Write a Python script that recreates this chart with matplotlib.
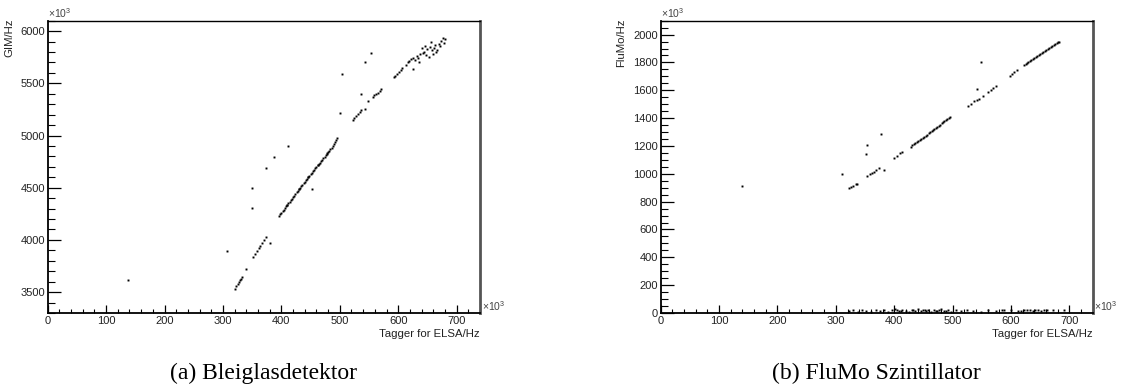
import matplotlib
matplotlib.use("Agg")
import matplotlib.pyplot as plt
from matplotlib.ticker import MultipleLocator

plt.rcParams["font.family"] = ["Liberation Sans", "DejaVu Sans"]
plt.rcParams["mathtext.fontset"] = "custom"
plt.rcParams["mathtext.rm"] = "Liberation Sans"

# ---- (a) Bleiglasdetektor: Tagger rate vs GIM rate (both x10^3 Hz) ----
gim_x = [138, 307, 340, 350, 350, 374, 388, 380, 411, 453, 500, 504, 543, 554, 536, 548, 543,
         321, 323, 325, 327, 329, 331, 332,
         352, 355, 358, 361, 364, 367, 370, 373,
         396, 400, 404, 408, 412, 416, 420, 424, 428, 432, 436, 440, 444, 448, 452, 456,
         460, 464, 468, 472, 476, 480, 484, 488, 492, 496, 410, 430, 446, 462, 478,
         398, 402, 406, 410, 414, 418, 422, 426, 430, 434, 438, 442, 446, 450, 454, 458,
         462, 466, 470, 474, 478, 482, 486, 490, 494,
         522, 525, 528, 531, 534, 537,
         556, 559, 562, 565, 568, 571,
         592, 595, 598, 601, 604, 607,
         613, 616, 619, 622, 625, 626, 629, 632, 634, 636, 638, 641, 643, 644, 647, 650,
         653, 655, 656, 658, 661, 663, 665, 667, 670, 672, 674, 676, 678, 680, 646, 660]
gim_y = [3616, 3891, 3719, 4306, 4495, 4686, 4792, 3968, 4900, 4485, 5213, 5590, 5702, 5788, 5398, 5334, 5254,
         3530, 3555, 3575, 3595, 3612, 3630, 3642,
         3839, 3865, 3890, 3918, 3945, 3970, 3998, 4025,
         4232, 4262, 4290, 4322, 4350, 4380, 4410, 4440, 4470, 4500, 4528, 4556, 4585, 4612, 4642, 4670,
         4700, 4726, 4756, 4783, 4812, 4842, 4870, 4900, 4935, 4975, 4338, 4492, 4603, 4720, 4830,
         4247, 4276, 4306, 4336, 4365, 4395, 4425, 4455, 4485, 4514, 4542, 4570, 4598, 4627, 4656, 4685,
         4713, 4741, 4770, 4798, 4827, 4856, 4885, 4917, 4955,
         5149, 5170, 5188, 5205, 5226, 5245,
         5372, 5385, 5400, 5412, 5428, 5443,
         5558, 5575, 5592, 5608, 5625, 5644,
         5676, 5700, 5712, 5730, 5638, 5745, 5722, 5760, 5740, 5707, 5778, 5836, 5790, 5803, 5770, 5830,
         5755, 5850, 5899, 5815, 5836, 5870, 5800, 5820, 5880, 5855, 5905, 5932, 5890, 5925, 5860, 5780]

# ---- (b) FluMo Szintillator ----
flumo_x = [140, 310, 352, 354, 378, 374, 383, 542, 548, 552,
           322, 326, 330, 334, 336,
           354, 358, 362, 365, 368,
           400, 405, 410, 414,
           429, 434, 439, 444, 449, 454, 459, 464, 469, 474, 479, 484, 489, 494, 496,
           431, 436, 441, 446, 451, 456, 461, 466, 471, 476, 481, 486, 491,
           527, 532, 537, 541, 545, 560, 565, 570, 575,
           598, 602, 606, 611,
           623, 628, 633, 638, 643, 648, 653, 658, 663, 668, 673, 678, 682,
           625, 630, 635, 640, 645, 650, 655, 660, 665, 670, 675, 680,
           322, 330, 338, 345, 352, 360, 368, 375, 382, 390, 396, 402, 408, 414, 420, 425,
           430, 436, 441, 446, 452, 458, 463, 468, 474, 480, 486, 492, 498, 505, 515, 525,
           535, 548, 560, 575, 588, 600, 612, 622, 632, 642, 652, 662, 672, 690,
           404, 411, 433, 449, 455, 471, 477, 489, 584, 618, 627, 637, 647, 657]
flumo_y = [916, 1000, 1141, 1206, 1287, 1041, 1024, 1608, 1806, 1560,
           897, 905, 915, 925, 930,
           986, 996, 1008, 1016, 1024,
           1113, 1130, 1146, 1160,
           1196, 1212, 1228, 1244, 1258, 1274, 1290, 1306, 1322, 1338, 1354, 1370, 1385, 1400, 1407,
           1204, 1220, 1236, 1251, 1266, 1282, 1298, 1314, 1330, 1346, 1362, 1377, 1392,
           1488, 1503, 1520, 1530, 1540, 1590, 1604, 1618, 1632,
           1703, 1716, 1730, 1747,
           1782, 1796, 1810, 1824, 1838, 1852, 1866, 1880, 1894, 1908, 1922, 1938, 1950,
           1789, 1803, 1817, 1831, 1845, 1859, 1873, 1887, 1901, 1915, 1930, 1944,
           12, 18, 8, 22, 15, 10, 25, 14, 20, 9, 18, 26, 12, 20, 15, 8,
           22, 16, 28, 12, 18, 24, 10, 20, 15, 26, 12, 18, 9, 20, 14, 22,
           16, 10, 20, 12, 18, 25, 15, 20, 18, 22, 16, 20, 18, 24,
           20, 14, 18, 22, 16, 12, 20, 15, 18, 14, 20, 16, 22, 18]

x_ticks = [0, 100, 200, 300, 400, 500, 600, 700]
gim_ticks = [3500, 4000, 4500, 5000, 5500, 6000]
flumo_ticks = [0, 200, 400, 600, 800, 1000, 1200, 1400, 1600, 1800, 2000]

W, H = 1121, 387
fig = plt.figure(figsize=(W / 100, H / 100), dpi=100)


def root_axes(left_px, right_px, ylim, yticks, yminor, ylabel, ylab_x):
    top_px, bot_px = 20.7, 313.0
    ax = fig.add_axes([left_px / W, (H - bot_px) / H,
                       (right_px - left_px) / W, (bot_px - top_px) / H])
    ax.set_xlim(0, 740)
    ax.set_ylim(*ylim)
    ax.set_xticks(x_ticks)
    ax.set_yticks(yticks)
    ax.xaxis.set_minor_locator(MultipleLocator(20))
    ax.yaxis.set_minor_locator(MultipleLocator(yminor))
    ax.tick_params(axis="x", which="major", direction="in", length=5.8, width=0.9,
                   pad=2.2, labelsize=8, labelcolor="#222222")
    ax.tick_params(axis="x", which="minor", direction="in", length=2.9, width=0.8)
    ax.tick_params(axis="y", which="major", direction="in", length=9.4, width=0.9,
                   pad=1.8, labelsize=8, labelcolor="#222222")
    ax.tick_params(axis="y", which="minor", direction="in", length=4.8, width=0.8)
    for s in ("left", "bottom"):
        ax.spines[s].set_linewidth(1.3)
    ax.spines["top"].set_linewidth(1.0)
    ax.spines["right"].set_color("#555555")
    ax.spines["right"].set_linewidth(2.0)
    ax.set_ylabel(ylabel, fontsize=8.2, ha="right", color="#222222")
    ax.yaxis.set_label_coords(ylab_x, 1.008)
    ax.set_xlabel("Tagger for ELSA/Hz", fontsize=8.2, ha="right", va="center", color="#222222")
    ax.xaxis.set_label_coords(1.0, -0.072)
    ax.text(0.0, 1.004, r"$\times10^{3}$", transform=ax.transAxes, fontsize=7.5,
            ha="left", va="bottom", color="#444444")
    ax.text(1.004, 0.0, r"$\times10^{3}$", transform=ax.transAxes, fontsize=7.5,
            ha="left", va="bottom", color="#444444")
    return ax


ax1 = root_axes(47.7, 480.0, (3300, 6100), gim_ticks, 100, "GIM/Hz", -0.077)
ax1.plot(gim_x, gim_y, "s", color="black", markersize=1.4, markeredgewidth=0)

ax2 = root_axes(660.7, 1092.7, (0, 2100), flumo_ticks, 50, "FluMo/Hz", -0.079)
ax2.plot(flumo_x, flumo_y, "s", color="black", markersize=1.4, markeredgewidth=0)

fig.text(264 / W, 1 - 373 / H, "(a) Bleiglasdetektor", family="Liberation Serif",
         fontsize=17, ha="center", va="center")
fig.text(876 / W, 1 - 373 / H, "(b) FluMo Szintillator", family="Liberation Serif",
         fontsize=17, ha="center", va="center")

fig.savefig("out.png", dpi=100)
